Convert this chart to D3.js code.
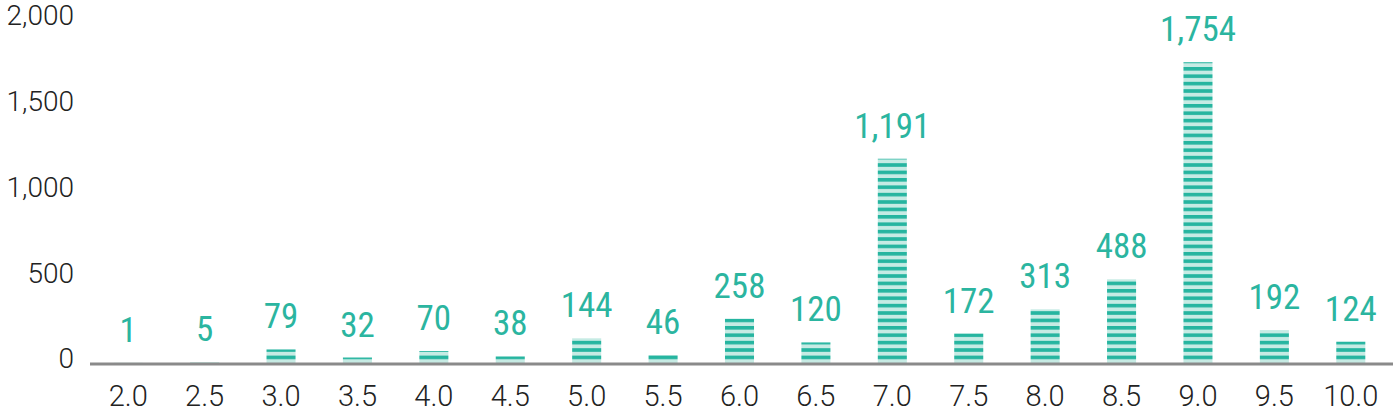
<!DOCTYPE html>
<html>
<head>
<meta charset="utf-8">
<script src="https://cdn.jsdelivr.net/npm/d3@7"></script>
<style>
  html, body { margin: 0; padding: 0; background: #fff; }
  svg { display: block; }
</style>
</head>
<body>
<svg id="chart" width="1395" height="417"></svg>
<script>
const categories = ["2.0","2.5","3.0","3.5","4.0","4.5","5.0","5.5","6.0","6.5","7.0","7.5","8.0","8.5","9.0","9.5","10.0"];
const values = [1,5,79,32,70,38,144,46,258,120,1191,172,313,488,1754,192,124];
const yTicks = [0,500,1000,1500,2000];

const W = 1395, H = 417;
const baseline = 363;
const svg = d3.select("#chart");

const x = d3.scaleBand().domain(categories).range([90, 1389]).paddingInner(0.62).paddingOuter(0.31);
const y = d3.scaleLinear().domain([0, 2000]).range([baseline, 20]);

const dark = "#26b5a0", light = "#c6ebe4";
const period = 7.4;
const defs = svg.append("defs");
const pat = defs.append("pattern")
  .attr("id", "stripes")
  .attr("patternUnits", "userSpaceOnUse")
  .attr("x", 0).attr("y", baseline)
  .attr("width", 10).attr("height", period);
pat.append("rect").attr("x", 0).attr("y", 0).attr("width", 10).attr("height", period).attr("fill", light);
pat.append("rect").attr("x", 0).attr("y", 0).attr("width", 10).attr("height", 3.6).attr("fill", dark);

// y axis labels (no line)
const yAxis = d3.axisLeft(y).tickValues(yTicks).tickFormat(d3.format(",")).tickSize(0).tickPadding(0);
const gy = svg.append("g").attr("transform", "translate(74,-4)").call(yAxis);
gy.select(".domain").remove();
gy.selectAll("text")
  .attr("fill", "#222")
  .style("font-family", "Roboto, 'Liberation Sans', sans-serif")
  .style("font-weight", 300)
  .style("font-size", "28px");

// bars
svg.append("g").selectAll("rect").data(values).join("rect")
  .attr("x", (d, i) => x(categories[i]))
  .attr("width", x.bandwidth())
  .attr("y", d => y(d))
  .attr("height", d => baseline - y(d))
  .attr("fill", "url(#stripes)");

// x axis
const xAxis = d3.axisBottom(x).tickSize(0).tickPadding(0);
const gx = svg.append("g").attr("transform", `translate(0,${baseline})`).call(xAxis);
gx.select(".domain").remove();
gx.selectAll("text")
  .attr("dy", "0")
  .attr("y", 43)
  .attr("fill", "#222")
  .style("font-family", "Roboto, 'Liberation Sans', sans-serif")
  .style("font-weight", 300)
  .style("font-size", "29px");
svg.append("line")
  .attr("x1", 90).attr("x2", 1393)
  .attr("y1", baseline + 1).attr("y2", baseline + 1)
  .attr("stroke", "#8a8a8a").attr("stroke-width", 3);

// value labels
svg.append("g").selectAll("text").data(values).join("text")
  .attr("x", (d, i) => x(categories[i]) + x.bandwidth() / 2)
  .attr("y", d => y(d) - 21)
  .attr("text-anchor", "middle")
  .attr("fill", "#2bb5a0")
  .style("font-family", "'Liberation Sans Narrow', 'Roboto Condensed', Roboto, sans-serif")
  .style("font-size", "35px")
  .text(d => d3.format(",")(d));
</script>
</body>
</html>
